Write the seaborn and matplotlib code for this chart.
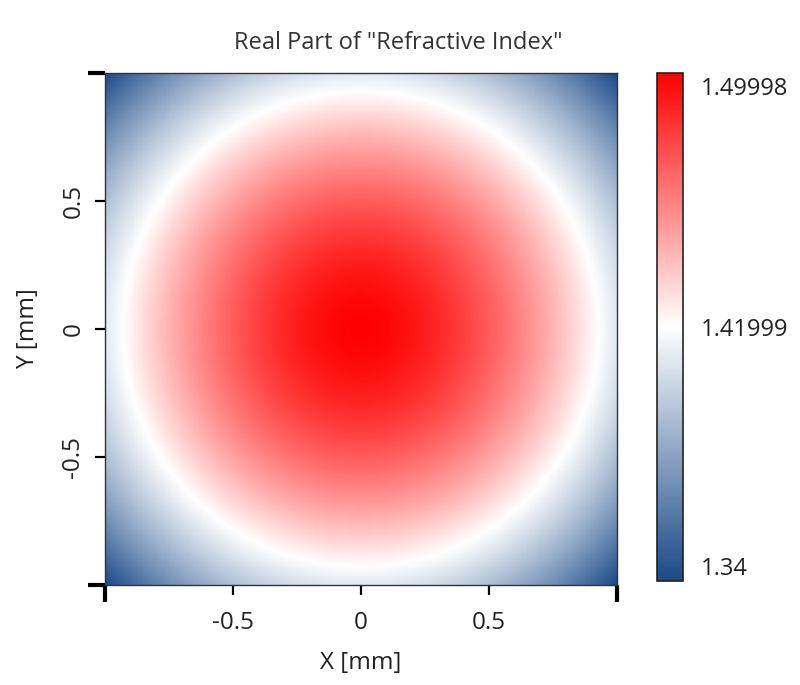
import numpy as np
import pandas as pd
import matplotlib
matplotlib.use("Agg")
import matplotlib.pyplot as plt
import matplotlib.transforms as mtransforms
from matplotlib.colors import LinearSegmentedColormap
import seaborn as sns

# values
n_center = 1.49998       # index on axis (r = 0)
n_white = 1.41999        # index at the white ring
r_white = 0.93           # radius of the white ring [mm]
n_min = 1.34             # index in the corners
cbar_ticks = [1.34, 1.41999, 1.49998]
cbar_labels = ["1.34", "1.41999", "1.49998"]
axis_ticks = [-0.5, 0, 0.5]
axis_labels = ["-0.5", "0", "0.5"]
x_range = (-1.0, 1.0)
N = 401

# graded index profile n(r) = n0 - a * r^p through the three read points
r_corner = np.sqrt(2) * x_range[1]
p = np.log((n_center - n_min) / (n_center - n_white)) / np.log(r_corner / r_white)
a = (n_center - n_white) / r_white**p

x_mm = np.linspace(x_range[0], x_range[1], N)
y_mm = x_mm[::-1]
X, Y = np.meshgrid(x_mm, y_mm)
r = np.sqrt(X**2 + Y**2)
n_real = n_center - a * r**p
grid = pd.DataFrame(n_real, index=y_mm, columns=x_mm)

sns.set_style("white")
plt.rcParams["font.family"] = ["Open Sans", "DejaVu Sans"]

cmap = LinearSegmentedColormap.from_list("bwr_vl", ["#1b4a88", "#ffffff", "#ff0000"])

fig = plt.figure(figsize=(8, 6.85), dpi=100)
ax = fig.add_axes([0.131, 0.146, 0.64, 0.7474])
cax = fig.add_axes([0.821, 0.152, 0.0325, 0.7416])

sns.heatmap(grid, ax=ax, cbar_ax=cax, cmap=cmap, vmin=n_min, vmax=n_center,
            xticklabels=False, yticklabels=False, rasterized=True)


def to_col(v):
    return (v - x_range[0]) / (x_range[1] - x_range[0]) * N


def to_row(v):
    return (x_range[1] - v) / (x_range[1] - x_range[0]) * N


ax.set_xticks([to_col(v) for v in axis_ticks])
ax.set_xticklabels(axis_labels)
ax.set_yticks([to_row(v) for v in axis_ticks])
ax.set_yticklabels(axis_labels, rotation=90, va="center")
ax.set_xticks([to_col(-1), to_col(1)], minor=True)
ax.set_yticks([to_row(-1), to_row(1)], minor=True)
ax.tick_params(which="major", direction="out", length=7, width=1.6, color="black",
               labelsize=17.5, labelcolor="#222222", bottom=True, left=True)
ax.tick_params(axis="x", which="major", pad=12)
ax.tick_params(axis="y", which="major", pad=7)
ax.tick_params(which="minor", direction="out", length=12, width=3, color="black",
               bottom=True, left=True)

for s in ax.spines.values():
    s.set_visible(True)
    s.set_color("#333333")
    s.set_linewidth(1)

ax.set_xlabel("X [mm]", fontsize=17.5, color="#222222", labelpad=11)
ax.set_ylabel("Y [mm]", fontsize=17.5, color="#222222", labelpad=15)
fig.text(0.498, 0.937, 'Real Part of "Refractive Index"', ha="center", va="center",
         fontsize=17, color="#333333")

cbar = ax.collections[0].colorbar
cbar.set_ticks(cbar_ticks)
cbar.set_ticklabels(cbar_labels)
cbar.ax.tick_params(length=0, labelsize=17, labelcolor="#222222", pad=13)
labs = cbar.ax.get_yticklabels()
labs[0].set_va("bottom")
labs[2].set_va("top")
shift = mtransforms.ScaledTranslation(0, -3 / 72, fig.dpi_scale_trans)
labs[2].set_transform(labs[2].get_transform() + shift)
cbar.outline.set_visible(True)
cbar.outline.set_edgecolor("#222222")
cbar.outline.set_linewidth(1.2)

fig.savefig("out.png", dpi=100)
